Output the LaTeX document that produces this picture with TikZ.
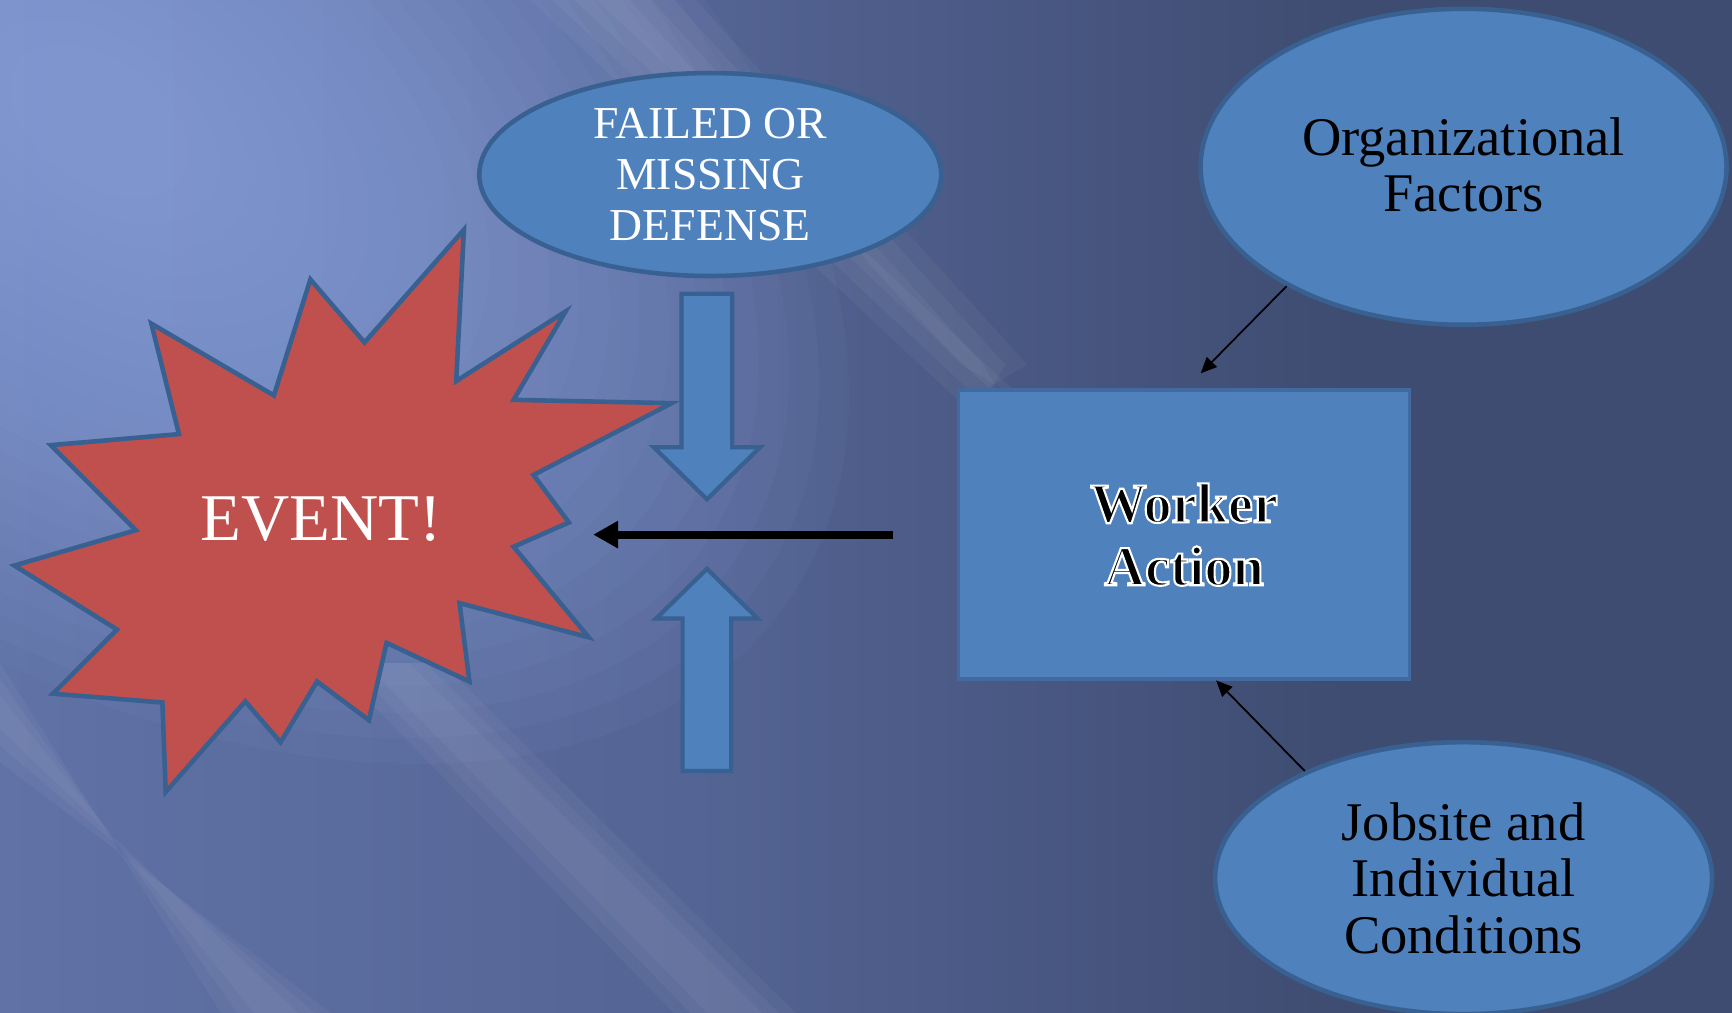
\documentclass[tikz,border=0pt]{standalone}
\usepackage{fontspec}
\setmainfont{Liberation Serif}
\usetikzlibrary{shapes.geometric,arrows.meta,calc}

\definecolor{bglight}{RGB}{152,176,236}
\definecolor{bgleft}{RGB}{96,114,166}
\definecolor{bgmid}{RGB}{84,100,148}
\definecolor{bgdark}{RGB}{62,76,113}
\definecolor{shapeblue}{RGB}{79,129,189}
\definecolor{shapeedge}{RGB}{56,96,145}
\definecolor{boxedge}{RGB}{66,106,160}
\definecolor{eventred}{RGB}{192,80,77}

\pgfdeclarehorizontalshading{slidebg}{100bp}{color(0bp)=(bgleft); color(25bp)=(bgleft); color(45bp)=(bgmid); color(64bp)=(bgdark); color(75bp)=(bgdark); color(100bp)=(bgdark)}

% outlined letters: black fill, white stroke
\newcommand{\outlined}[1]{\special{pdf:literal direct 2 Tr 0.6 w 1 1 1 RG}#1\special{pdf:literal direct 0 Tr}}

\tikzset{
  bubble/.style={ellipse, draw=shapeedge, line width=1.3pt, fill=shapeblue, inner sep=0pt},
  workerbox/.style={rectangle, draw=boxedge, line width=1pt, fill=shapeblue, inner sep=0pt,
    minimum width=4.51cm, minimum height=2.89cm},
  blockarrow/.style={draw=shapeedge, line width=1.2pt, fill=shapeblue, line join=miter},
  burst/.style={draw=shapeedge, line width=1.3pt, fill=eventred, line join=miter},
  lighttext/.style={text=white, align=center, inner sep=0pt, font=\fontsize{13}{14.6}\selectfont},
  darktext/.style={text=black, align=center, inner sep=0pt, font=\fontsize{15.5}{16}\selectfont},
  actiontext/.style={text=black, align=center, inner sep=0pt, font=\bfseries\fontsize{16}{17.9}\selectfont},
  thinarrow/.style={line width=0.5pt, -{Triangle[length=0.16cm,width=0.14cm]}},
  ray/.style={white, opacity=0.04},
}

\begin{document}
\begin{tikzpicture}[x={(0.011046cm,0)},y={(0,-0.011046cm)}]
  \useasboundingbox (0,0) rectangle (1568,917);
  \clip (0,0) rectangle (1568,917);
  % background: dark to the right, glow at top left, soft rays
  \shade[shading=slidebg] (0,0) rectangle (1568,917);
  \foreach \r in {1.00,0.96,...,0.12}
    \fill[bglight, opacity=0.05, rotate around={-35:(90,110)}]
      (90,110) ellipse ({760*\r} and {470*\r});
  \foreach \w in {0,20,40,60}
    \fill[ray] (480+\w,0) -- (630-\w,0) -- (930-\w,330) -- (870+\w,365) -- cycle;
  \foreach \w in {0,15,30}
    \fill[ray] (0,600+\w) -- (0,690-\w) -- (300-\w,917) -- (200+\w,917) -- cycle;
  \foreach \w in {0,15,30}
    \fill[ray] (300+\w,600) -- (400-\w,600) -- (720-\w,917) -- (610+\w,917) -- cycle;

  % the event
  \draw[burst] (420,208) -- (413,345) -- (512,282) -- (465,362) -- (608,365)
    -- (483,430) -- (515,473) -- (465,495) -- (533,577) -- (416,546)
    -- (425,617) -- (350,582) -- (334,652) -- (287,617) -- (254,672)
    -- (222,635) -- (150,717) -- (147,636) -- (48,628) -- (106,570)
    -- (13,512) -- (123,480) -- (46,403) -- (162,393) -- (137,293)
    -- (248,358) -- (281,253) -- (330,310) -- cycle;
  \node[text=white, inner sep=0pt, font=\fontsize{19}{22}\selectfont] (event) at (291,470) {EVENT!};

  % defenses
  \node[bubble, minimum width=4.62cm, minimum height=2.03cm] (defense) at (643,158) {};
  \node[lighttext] (defenselbl) at (defense.center) {FAILED OR\\MISSING\\DEFENSE};
  \draw[blockarrow] (617,266) -- (663,266) -- (663,405) -- (688,405) -- (640,452)
    -- (592,405) -- (617,405) -- cycle;
  \draw[blockarrow] (618,698) -- (662,698) -- (662,560) -- (686,560) -- (640,515)
    -- (594,560) -- (618,560) -- cycle;

  % factors
  \node[bubble, minimum width=5.26cm, minimum height=3.16cm] (org) at (1325,151) {};
  \node[darktext] (orglbl) at (1325,149) {Organizational\\Factors};
  \node[bubble, minimum width=4.97cm, minimum height=2.72cm] (job) at (1325,795) {};
  \node[darktext] (joblbl) at (job.center) {Jobsite and\\Individual\\Conditions};

  % worker action
  \node[workerbox] (worker) at (1072,484) {};
  \node[actiontext] (workerlbl) at (worker.center) {\outlined{Worker}\\\outlined{Action}};

  % connectors
  \coordinate (orgtip) at (1087,338);
  \coordinate (jobtip) at (1101,616);
  \coordinate (eventtip) at (537,484);
  \draw[thinarrow] (org.214) -- (orgtip);
  \draw[thinarrow] (job.146) -- (jobtip);
  \draw[line width=2.3pt, -{Triangle[length=0.25cm,width=0.26cm]}, shorten <=0.64cm]
    (worker.west) -- (eventtip);
\end{tikzpicture}
\end{document}
